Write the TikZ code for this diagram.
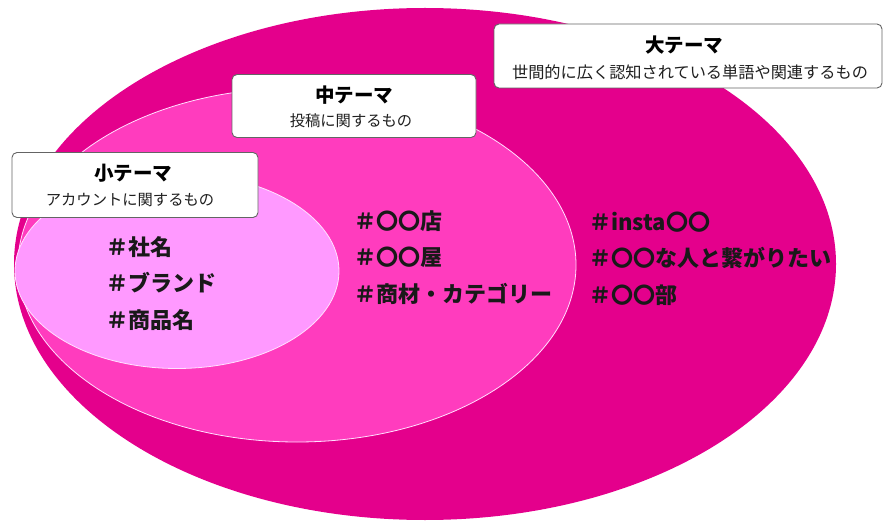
\documentclass[tikz,border=0pt]{standalone}
\usepackage{fontspec}
\setmainfont{Noto Sans CJK JP}
\usetikzlibrary{shapes.geometric}
\definecolor{bigc}{RGB}{228,0,140}
\definecolor{midc}{RGB}{255,60,190}
\definecolor{smallc}{RGB}{255,153,255}
\definecolor{boxline}{RGB}{100,100,100}
\tikzset{
  ring/.style={ellipse, inner sep=0pt},
  themebox/.style={draw=boxline, line width=0.9pt, fill=white, rounded corners=5pt, inner sep=0pt},
  boxtitle/.style={font=\fontsize{19.5}{22}\selectfont\bfseries, inner sep=0pt},
  boxsub/.style={font=\fontsize{15.3}{18}\selectfont, text=black!88, inner sep=0pt},
  tags/.style={font=\fontsize{22}{36.5}\selectfont\bfseries, align=left, anchor=west, inner sep=0pt, text=black!90}
}
\begin{document}
\begin{tikzpicture}[x=1pt,y=-1pt]
\useasboundingbox (0,0) rectangle (883,521);
% ellipses
\node[ring, fill=bigc, minimum width=822pt, minimum height=512pt] (big) at (425,264) {};
\node[ring, fill=midc, draw=white!70!smallc, line width=0.8pt, minimum width=558pt, minimum height=354pt] (mid) at (297,265) {};
\node[ring, fill=smallc, draw=white!70!smallc, line width=0.8pt, minimum width=324pt, minimum height=195pt] (small) at (177,271) {};
% boxes
\node[themebox, minimum width=388pt, minimum height=64pt] (bigbox) at (688,56) {};
\node[boxtitle] (bigtitle) at (684,45) {大テーマ};
\node[boxsub, font=\fontsize{16.2}{19}\selectfont] (bigsub) at (690,72) {世間的に広く認知されている単語や関連するもの};
\node[themebox, minimum width=244pt, minimum height=63pt] (midbox) at (354,106) {};
\node[boxtitle] (midtitle) at (354,95) {中テーマ};
\node[boxsub] (midsub) at (351,121) {投稿に関するもの};
\node[themebox, minimum width=246pt, minimum height=65pt] (smallbox) at (135,185) {};
\node[boxtitle] (smalltitle) at (133,173) {小テーマ};
\node[boxsub] (smallsub) at (130,200) {アカウントに関するもの};
% hashtags
\node[tags] (tagsmall) at (106,283.5) {＃社名\\＃ブランド\\＃商品名};
\node[tags] (tagmid) at (354,257.5) {＃〇〇店\\＃〇〇屋\\＃商材・カテゴリー};
\node[tags] (tagbig) at (589,258.5) {＃insta〇〇\\＃〇〇な人と繋がりたい\\＃〇〇部};
\end{tikzpicture}
\end{document}
